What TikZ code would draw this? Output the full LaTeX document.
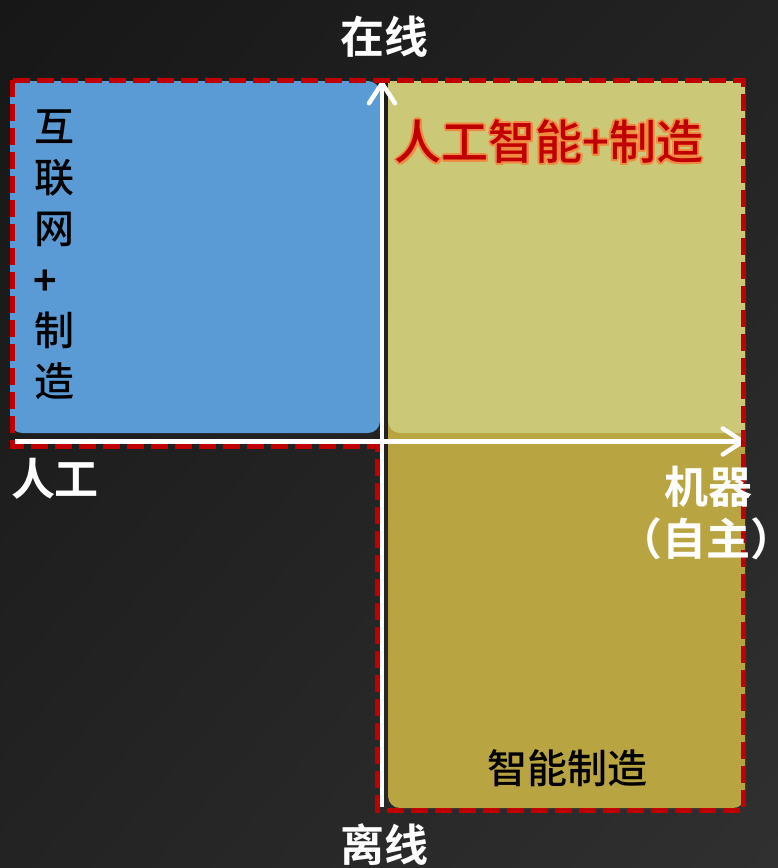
\documentclass[tikz,border=0pt]{standalone}
\usepackage{fontspec}
\usetikzlibrary{arrows.meta,shadings}
\newfontfamily\cjk{Noto Sans CJK SC Medium}
\newfontfamily\cjkbold{Noto Sans CJK SC Bold}
\definecolor{bgA}{HTML}{171717}
\definecolor{bgM}{HTML}{232323}
\definecolor{bgB}{HTML}{303030}
\definecolor{qblue}{HTML}{5B9BD5}
\definecolor{qlight}{HTML}{CBC977}
\definecolor{qgold}{HTML}{B9A442}
\definecolor{qred}{HTML}{C00000}
\definecolor{qglow}{HTML}{F08A40}
\begin{document}
\begin{tikzpicture}[x=1pt,y=-1pt,
  axislabel/.style={text=white,inner sep=0pt,font=\cjkbold\fontsize{44}{44}\selectfont},
  blacklabel/.style={text=black,inner sep=0pt,font=\cjk\fontsize{40}{40}\selectfont},
  redlabel/.style={inner sep=0pt,font=\cjk\fontsize{47}{47}\selectfont},
  reddash/.style={draw=qred,line width=5pt,dash pattern=on 17pt off 7pt},
  axisline/.style={draw=white,line width=4.5pt,-{Straight Barb[length=20pt,width=26pt,line cap=round,line join=round]}}]
\useasboundingbox (0,0) rectangle (778,868);
\shade[upper left=bgA,upper right=bgM,lower left=bgM,lower right=bgB] (0,0) rectangle (778,868);
% quadrant areas
\fill[qblue,rounded corners=12pt] (10,81) rectangle (380,433);
\fill[qgold,rounded corners=12pt] (388,81) rectangle (745,808);
\fill[qlight,rounded corners=12pt] (388,81) -- (388,433) [sharp corners] -- (745,433) -- (745,81) -- cycle;
% white axes
\coordinate (hs) at (15,441.5);
\coordinate (he) at (745,441.5);
\coordinate (vs) at (382,807);
\coordinate (ve) at (382,81);
\draw[axisline] (hs) -- (he);
\draw[axisline] (vs) -- (ve);
% red dashed outline
\draw[reddash] (12.5,80) -- (743,80) -- (743,810) -- (377.5,810) -- (377.5,446) -- (12.5,446) -- cycle;
% axis labels
\node[axislabel] (online) at (384,37) {在线};
\node[axislabel] (offline) at (384,845) {离线};
\node[axislabel] (human) at (55,479) {人工};
\node[axislabel] (machine) at (708,487) {机器};
\node[axislabel] (auto) at (706,539) {\kern-0.35em（自主）\kern-0.35em};
% quadrant labels
\foreach \dx/\dy in {-2/0,2/0,0/-2,0/2,-1.5/-1.5,1.5/1.5,-1.5/1.5,1.5/-1.5}
  \node[redlabel,text=qglow] at ([shift={(\dx,\dy)}]549,142) {人工智能+制造};
\node[redlabel,text=qred] (aiplus) at (549,142) {人工智能+制造};
\node[blacklabel] (smart) at (567,768) {智能制造};
\foreach \ch/\y [count=\i] in {互/127,联/178,网/229,制/330,造/381}
  \node[blacklabel,anchor=west] (v\i) at (34,\y) {\ch};
\node[blacklabel,anchor=west,font=\cjkbold\fontsize{40}{40}\selectfont] (vplus) at (33,283) {+};
\end{tikzpicture}
\end{document}
